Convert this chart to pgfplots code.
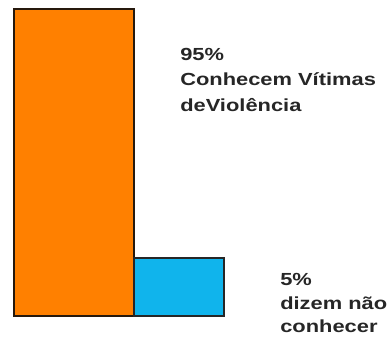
\documentclass[border=0pt]{standalone}
\usepackage{pgfplots}
\pgfplotsset{compat=1.18}
\usepackage{fontspec}
\setmainfont{Liberation Sans}
\definecolor{barorange}{HTML}{FF8000}
\definecolor{barblue}{HTML}{10B4EC}
\begin{document}
\begin{tikzpicture}
\begin{axis}[
  scale only axis, width=390pt, height=344pt,
  hide axis, clip=false,
  xmin=0, xmax=390, ymin=-8.66, ymax=97.79,
]
\addplot[ybar interval, fill=barorange, draw=black!80!brown, line width=1.5pt] coordinates {(14,95) (134,95)};
\addplot[ybar interval, fill=barblue, draw=black!85, line width=1.5pt] coordinates {(134,17.95) (224,17.95)};
\node[anchor=base west, align=left, font=\fontsize{17.5}{25.5}\selectfont\bfseries, text=black!85, inner sep=0pt, xscale=1.25]
  at (rel axis cs:{180/390},{1-111.5/344}) {95\%\\Conhecem Vítimas\\deViolência};
\node[anchor=base west, align=left, font=\fontsize{17.5}{23.5}\selectfont\bfseries, text=black!85, inner sep=0pt, xscale=1.25]
  at (rel axis cs:{280/390},{1-333/344}) {5\%\\dizem não\\conhecer};
\end{axis}
\pgfresetboundingbox
\useasboundingbox (0,0) rectangle (390pt,344pt);
\end{tikzpicture}
\end{document}
